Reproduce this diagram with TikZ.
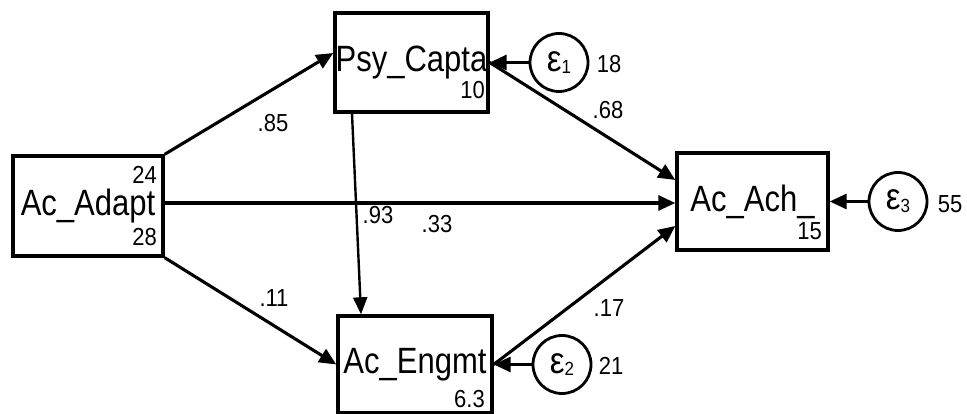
\documentclass[tikz,border=0pt]{standalone}
\usepackage{fontspec}
\setmainfont{Liberation Sans}
\usetikzlibrary{arrows.meta}

% text set slightly taller than wide, as the labels are printed
\newcommand{\tallbox}[2]{\scalebox{1}[#1]{#2}}
\newcommand{\varlab}[1]{\tallbox{1.18}{#1}}
\newcommand{\numtxt}[1]{\tallbox{1.12}{#1}}
\newcommand{\epsub}[1]{\tallbox{1.12}{\fontsize{33}{33}\selectfont ε\raisebox{-2.5pt}{\fontsize{17}{17}\selectfont #1}}}

\tikzset{
  varbox/.style={draw, line width=3.4pt, rectangle, inner sep=0pt,
    font=\fontsize{31}{31}\selectfont},
  errcirc/.style={draw, line width=2.8pt, circle, minimum size=58pt, inner sep=0pt},
  numlab/.style={inner sep=0pt, font=\fontsize{22}{22}\selectfont},
  pathline/.style={line width=3.1pt, -{Triangle[length=17pt,width=15pt]}},
  thinpathline/.style={line width=2.4pt, -{Triangle[length=17pt,width=14pt]}}
}

\begin{document}
\begin{tikzpicture}[x=1pt, y=1pt]
\useasboundingbox (0,0) rectangle (967,414);

% observed variables
\node[varbox, minimum width=150pt, minimum height=100pt] (adapt) at (88,208) {\varlab{Ac\_Adapt}};
\node[varbox, minimum width=153pt, minimum height=99pt] (psy) at (411.5,351.5) {\varlab{Psy\_Capta}};
\node[varbox, minimum width=154pt, minimum height=97pt] (engmt) at (415,49.5) {\varlab{Ac\_Engmt}};
\node[varbox, minimum width=151pt, minimum height=97pt] (ach) at (752.5,212.5) {\varlab{Ac\_Ach\_}};

% intercepts and variances inside the boxes
\node[numlab, anchor=east] (adaptmean) at (157,239.5) {\numtxt{24}};
\node[numlab, anchor=east] (adaptvar) at (157,177) {\numtxt{28}};
\node[numlab, anchor=east] (psycons) at (485,324) {\numtxt{10}};
\node[numlab, anchor=east] (engcons) at (485,15) {\numtxt{6.3}};
\node[numlab, anchor=east] (achcons) at (822,183) {\numtxt{15}};

% error terms
\node[errcirc] (e1) at (559,351.5) {\epsub{1}};
\node[errcirc] (e2) at (562,49.5) {\epsub{2}};
\node[errcirc] (e3) at (898,212.5) {\epsub{3}};
\node[numlab] (e1var) at (609,350) {\numtxt{18}};
\node[numlab] (e2var) at (611,48) {\numtxt{21}};
\node[numlab] (e3var) at (950,210) {\numtxt{55}};

% structural paths
\draw[pathline] (adapt.north east) -- ([yshift=9.5pt]psy.west);
\draw[pathline] (adapt.south east) -- (engmt.west);
\draw[pathline] ([yshift=3pt]adapt.east) -- ([yshift=-1.5pt]ach.west);
\draw[thinpathline] ([xshift=-59.5pt]psy.south) -- ([xshift=-54pt]engmt.north);
\draw[pathline] (psy.east) -- ([yshift=21.5pt]ach.west);
\draw[pathline] (engmt.east) -- ([yshift=-24.5pt]ach.west);

% error paths
\draw[pathline] (e1) -- (psy);
\draw[pathline] (e2) -- (engmt);
\draw[pathline] (e3) -- (ach);

% path coefficients
\node[numlab] (c85) at (273,291) {\numtxt{.85}};
\node[numlab] (c11) at (274,116) {\numtxt{.11}};
\node[numlab] (c33) at (437,190) {\numtxt{.33}};
\node[numlab] (c93) at (378,199) {\numtxt{.93}};
\node[numlab] (c68) at (608,304) {\numtxt{.68}};
\node[numlab] (c17) at (609,106) {\numtxt{.17}};
\end{tikzpicture}
\end{document}
